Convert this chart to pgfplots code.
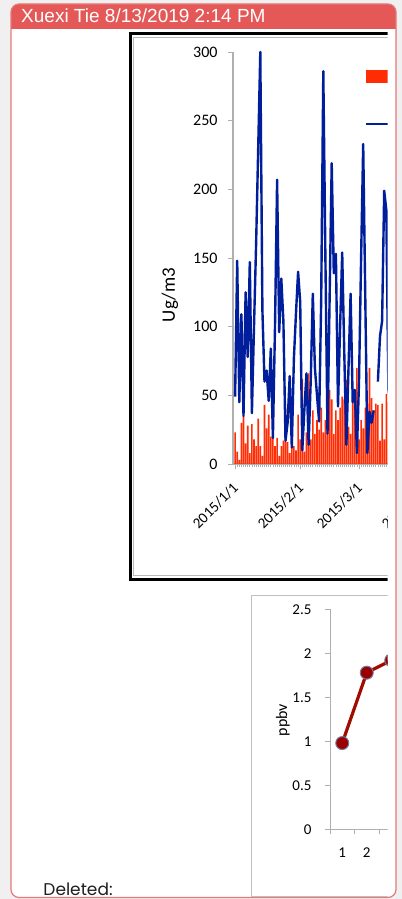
\documentclass[border=0pt]{standalone}
\usepackage{pgfplots}
\pgfplotsset{compat=1.18}
\usepackage{fontspec}
\setmainfont{Carlito}
\newfontfamily\headfont{Liberation Sans}
\newfontfamily\delfont{Poppins}
\definecolor{bggray}{RGB}{240,240,240}
\definecolor{headred}{RGB}{228,88,88}
\definecolor{boxred}{RGB}{230,120,120}
\definecolor{barred}{RGB}{255,44,4}
\definecolor{lineblue}{RGB}{0,30,155}
\definecolor{dotred}{RGB}{155,0,0}
\definecolor{linered}{RGB}{160,12,0}
\definecolor{ringblue}{RGB}{110,125,160}
\definecolor{axgray}{RGB}{175,175,175}
\definecolor{deltext}{RGB}{30,30,30}
\begin{document}
\begin{tikzpicture}
\useasboundingbox (0,0) rectangle (402bp,899bp);
\clip (0,0) rectangle (402bp,899bp);
\begin{scope}[x=1bp,y=1bp]
\fill[bggray] (0,0) rectangle (402,899);
\fill[white, rounded corners=8bp] (11,1.5) rectangle (396,895);
\fill[headred, rounded corners=8bp] (11,850) rectangle (396,895);
\fill[white] (11,850) rectangle (396,869.7);
\draw[boxred, line width=1.2bp, rounded corners=8bp] (11,1.5) rectangle (396,895);
\node[anchor=base west, inner sep=0pt, text=white, font=\headfont\fontsize{19bp}{19bp}\selectfont] at (21,876.3) {Xuexi Tie 8/13/2019 2:14 PM};
\node[anchor=base west, inner sep=0pt, text=deltext, font=\delfont\fontsize{17bp}{17bp}\selectfont] at (43.3,3.5) {Deleted:};
\end{scope}
\begin{scope}
\clip (0bp,0bp) rectangle (387.5bp,899bp);
\draw[black, line width=3bp] (130bp,319.5bp) rectangle (460bp,865.5bp);
\draw[gray!55, line width=1bp] (133.5bp,323.5bp) rectangle (460bp,861.5bp);
\draw[gray!50, line width=1bp] (251bp,2bp) rectangle (460bp,303bp);
\begin{axis}[
  at={(233bp,435bp)}, anchor=south west, scale only axis,
  width=191.1bp, height=412bp,
  xmin=-1, xmax=90, ymin=0, ymax=300,
  axis x line*=bottom, axis y line*=left,
  axis line style={axgray, line width=1.2bp},
  tick align=outside,
  tick style={axgray, line width=0.8bp},
  major tick length=5bp, minor tick length=3.5bp,
  ytick={0,50,...,300},
  xtick={0,31,59,90},
  xticklabels={2015/1/1,2015/2/1,2015/3/1,2015/4/1},
  minor xtick={0,1,...,89},
  /pgf/number format/assume math mode=true,
  yticklabel style={font=\fontsize{16bp}{16bp}\selectfont, xshift=-7bp},
  xticklabel style={font=\fontsize{15bp}{15bp}\selectfont, xshift=3bp, yshift=-14bp, rotate=45, anchor=east},
  ylabel={Ug/m3},
  ylabel style={font=\fontsize{19bp}{19bp}\selectfont, at={(axis description cs:-0.33,0.41)}, anchor=center},
  unbounded coords=jump,
  clip=false,
  legend style={at={(0.69,0.961)}, anchor=north west, draw=none, fill=none, inner sep=0pt,
    font=\fontsize{16bp}{16bp}\selectfont, row sep=32bp},
  legend cell align=left,
]
\addplot[ybar, bar width=1.6bp, fill=barred, draw=none,
  legend image code/.code={\fill[barred] (0bp,-6.5bp) rectangle (24bp,6.5bp);}]
coordinates {(0,23)(1,9)(2,3)(3,30)(4,35)(5,15)(6,28)(7,8)(8,29)(9,18)(10,13)(11,33)(12,13)(13,6)(14,43)(15,26)(16,36)(17,20)(18,28)(19,13)(20,19)(21,6)(22,13)(23,17)(24,41)(25,16)(26,8)(27,49)(28,13)(29,10)(30,36)(31,18)(32,62)(33,9)(34,23)(35,66)(36,18)(37,39)(38,22)(39,32)(40,25)(41,41)(42,23)(43,32)(44,37)(45,54)(46,47)(47,22)(48,39)(49,32)(50,41)(51,49)(52,47)(53,61)(54,27)(55,22)(56,46)(57,54)(58,70)(59,18)(60,32)(61,26)(62,41)(63,44)(64,70)(65,48)(66,39)(67,44)(68,43)(69,17)(70,44)(71,18)(72,51)(73,45)(74,30)};
\addplot[lineblue, line width=2.4bp, line join=round,
  legend image code/.code={\draw[lineblue, line width=2.4bp] (0bp,0bp) -- (24bp,0bp);}]
coordinates {(0,49)(1,148)(2,45)(3,109)(4,35)(5,125)(6,78)(7,147)(8,37)(9,100)(10,160)(11,230)(12,300)(13,112)(14,60)(15,68)(16,46)(17,84)(18,19)(19,100)(20,207)(21,96)(22,135)(23,104)(24,17)(25,30)(26,64)(27,12)(28,77)(29,110)(30,140)(31,118)(32,10)(33,40)(34,66)(35,14)(36,60)(37,124)(38,70)(39,50)(40,31)(41,120)(42,286)(43,150)(44,22)(45,120)(46,219)(47,139)(48,153)(49,42)(50,100)(51,154)(52,80)(53,14)(54,70)(55,124)(56,45)(57,54)(58,8)(59,60)(60,150)(61,233)(62,120)(63,8)(64,38)(65,30)(66,39)(67,nan)(68,60)(69,93)(70,104)(71,199)(72,185)(73,54)(74,40)};
\legend{PM2.5,PM10}
\end{axis}
\begin{axis}[
  at={(330bp,69.7bp)}, anchor=south west, scale only axis,
  width=245bp, height=220bp,
  xmin=0.5, xmax=10.5, ymin=0, ymax=2.5,
  axis x line*=bottom, axis y line*=left,
  axis line style={axgray, line width=1bp},
  tick align=outside,
  tick style={axgray, line width=0.8bp},
  major tick length=5bp, minor tick length=5bp,
  ytick={0,0.5,...,2.5},
  xtick={1,...,10},
  every major x tick/.append style={draw=none},
  minor xtick={0.5,1.5,...,10.5},
  /pgf/number format/assume math mode=true,
  yticklabel style={font=\fontsize{15bp}{15bp}\selectfont, xshift=-10bp},
  xticklabel style={font=\fontsize{15bp}{15bp}\selectfont, yshift=-10bp},
  ylabel={ppbv},
  ylabel style={font=\fontsize{16bp}{16bp}\selectfont, at={(axis description cs:-0.192,0.497)}, anchor=center},
  clip=false,
]
\addplot[linered, line width=3.2bp, mark=*, mark size=6.5bp,
  mark options={fill=dotred, draw=ringblue, line width=1bp}]
coordinates {(1,0.98)(2,1.78)(3,1.92)};
\end{axis}
\end{scope}
\end{tikzpicture}
\end{document}
